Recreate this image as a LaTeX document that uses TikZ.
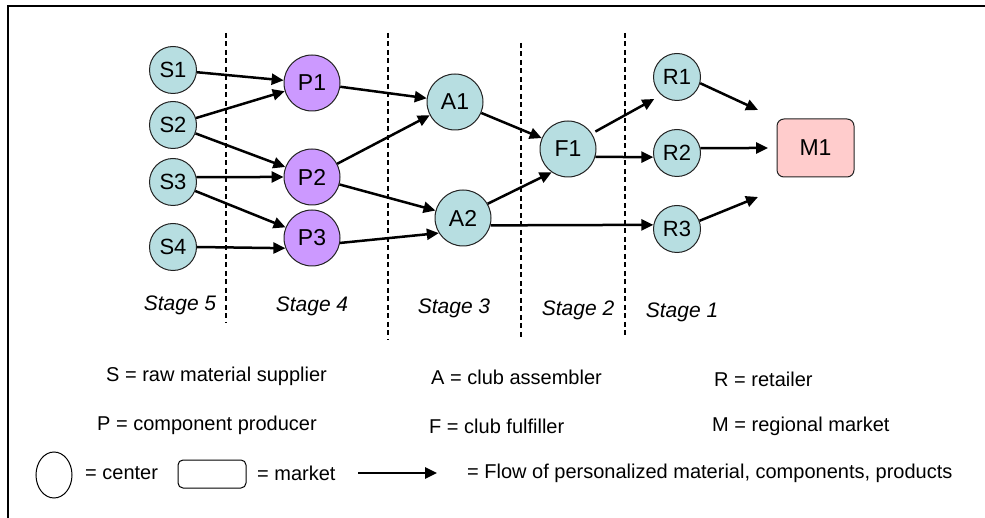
\documentclass[tikz,border=0pt]{standalone}
\usepackage{fontspec}
\setmainfont{Liberation Sans}
\usetikzlibrary{arrows.meta,shapes.geometric}
\definecolor{teal}{HTML}{B7DEE1}
\definecolor{purp}{HTML}{CC99FF}
\definecolor{pinkm}{HTML}{FFCCCC}
\definecolor{edge}{HTML}{222222}
\tikzset{
  small/.style={circle,draw=edge,line width=1pt,fill=teal,minimum size=47pt,inner sep=0pt,font=\fontsize{22}{24}\selectfont},
  big/.style={circle,draw=edge,line width=1pt,minimum size=56pt,inner sep=0pt,font=\fontsize{23}{25}\selectfont},
  ctr/.style={big,fill=teal},
  prod/.style={big,fill=purp},
  mkt/.style={rectangle,rounded corners=7pt,draw=edge,line width=1pt,fill=pinkm,minimum width=77pt,minimum height=58pt,inner sep=0pt,font=\fontsize{23}{25}\selectfont},
  flow/.style={line width=2.5pt,-{Triangle[length=12pt,width=11pt]}},
  sep/.style={line width=2.5pt,dash pattern=on 5pt off 3.5pt},
  stagelbl/.style={font=\fontsize{21}{23}\selectfont\itshape,inner sep=0pt},
  legtext/.style={font=\fontsize{20}{22}\selectfont,inner sep=0pt,anchor=west},
}
\begin{document}
\begin{tikzpicture}[x=1pt,y=-1pt]
\useasboundingbox (0,0) rectangle (985,518);
% frame
\draw[line width=2.5pt] (8,518) -- (8,6) -- (985,6);
% stage separators
\draw[sep] (226,33) -- (226,323);
\draw[sep] (388,33) -- (388,340);
\draw[sep] (521,43) -- (521,340);
\draw[sep] (625,33) -- (625,338);
% nodes
\node[small] (S1) at (173,70) {S1};
\node[small] (S2) at (173,125) {S2};
\node[small] (S3) at (173,182) {S3};
\node[small] (S4) at (173,247) {S4};
\node[prod] (P1) at (312,83) {P1};
\node[prod] (P2) at (312,177) {P2};
\node[prod] (P3) at (312,238) {P3};
\node[ctr] (A1) at (455,102) {A1};
\node[ctr] (A2) at (463,218) {A2};
\node[ctr] (F1) at (568,149) {F1};
\node[small] (R1) at (677,77) {R1};
\node[small] (R2) at (677,153) {R2};
\node[small] (R3) at (677,229) {R3};
\node[mkt] (M1) at (815.5,148) {M1};
\coordinate (m1a) at (758,110);
\coordinate (m1b) at (768,148);
\coordinate (m1c) at (758,197);
% flows
\draw[flow] (S1) -- (P1);
\draw[flow] (S2) -- (P1);
\draw[flow] (S2) -- (P2);
\draw[flow] (S3.12) -- (P2.west);
\draw[flow] (S3) -- (P3);
\draw[flow] (S4.east) -- (P3.201);
\draw[flow] (P1) -- (A1);
\draw[flow] (P2) -- (A1);
\draw[flow] (P2) -- (A2);
\draw[flow] (P3.-10) -- (A2.212);
\draw[flow] (A1) -- (F1);
\draw[flow] (A2.30) -- (F1.235);
\draw[flow] (A2.-15) -- (R3.170);
\draw[flow,shorten <=4pt,shorten >=8pt] (F1.33) -- (R1.229);
\draw[flow] (F1.-16) -- (R2.190);
\draw[flow] (R1.-15) -- (m1a);
\draw[flow] (R2.12) -- (m1b);
\draw[flow] (R3.20) -- (m1c);
% stage labels
\node[stagelbl] (st5) at (180,305) {Stage 5};
\node[stagelbl] (st4) at (312,306) {Stage 4};
\node[stagelbl] (st3) at (454,308) {Stage 3};
\node[stagelbl] (st2) at (578,310) {Stage 2};
\node[stagelbl] (st1) at (682,312) {Stage 1};
% legend
\node[legtext] (lS) at (106,376) {S = raw material supplier};
\node[legtext] (lP) at (97,425) {P = component producer};
\node[legtext] (lA) at (431,377) {A = club assembler};
\node[legtext] (lF) at (429,426) {F = club fulfiller};
\node[legtext] (lR) at (714,379) {R = retailer};
\node[legtext] (lM) at (712,426) {M = regional market};
\node[ellipse,draw=black,line width=1pt,minimum width=36pt,minimum height=46pt,inner sep=0pt] (lcirc) at (54,475) {};
\node[legtext] (lcen) at (85,473) {= center};
\node[rectangle,rounded corners=5pt,draw=black,line width=1pt,minimum width=68pt,minimum height=28pt,inner sep=0pt] (lrect) at (212,474) {};
\node[legtext] (lmkt) at (257,473) {= market};
\coordinate (la) at (358,473);
\coordinate (lb) at (437,473);
\draw[flow] (la) -- (lb);
\node[legtext] (lflow) at (467,473) {= Flow of personalized material, components, products};
\end{tikzpicture}
\end{document}
